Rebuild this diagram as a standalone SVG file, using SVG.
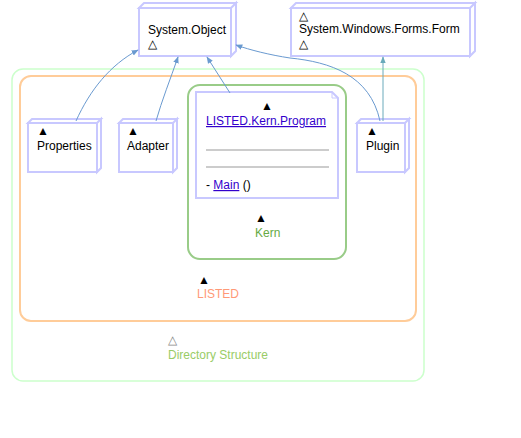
<svg xmlns="http://www.w3.org/2000/svg" width="521" height="438" viewBox="0 0 521 438">
<style>
.box{fill:#fff;stroke:#c8c8ff;stroke-width:2}
.t{font-family:"Liberation Sans",Arial,sans-serif;font-size:12px;fill:#000}
.lnk{fill:#3300cc;text-decoration:underline}
.c{fill:none;stroke:#6a9ad0;stroke-width:1}
</style>
<defs>
<marker id="ah" viewBox="0 0 10 10" refX="9" refY="5" markerWidth="7" markerHeight="7" orient="auto" markerUnits="userSpaceOnUse">
<path d="M0,1 L10,5 L0,9 z" fill="#6a9ad0"/>
</marker>
<marker id="ah2" viewBox="0 0 10 10" refX="9" refY="5" markerWidth="7" markerHeight="7" orient="auto" markerUnits="userSpaceOnUse">
<path d="M0,1 L10,5 L0,9 z" fill="#6aaabb"/>
</marker>
</defs>
<rect width="521" height="438" fill="#fff"/>
<g id="directory-structure">
<rect x="12" y="69" width="412" height="312" rx="11" fill="none" stroke="#ccffcc" stroke-width="1.5"/>
<text class="t" x="168" y="344" fill="#888" style="fill:#888">△</text>
<text class="t" x="168" y="359" style="fill:#99cc66">Directory Structure</text>
</g>
<g id="listed">
<rect x="20" y="76" width="396" height="245" rx="11" fill="none" stroke="#ffcc99" stroke-width="2"/>
<text class="t" x="198" y="284">▲</text>
<text class="t" x="197" y="298" style="fill:#ff9977">LISTED</text>
</g>
<g id="kern">
<rect x="188" y="85" width="158" height="174" rx="12" fill="none" stroke="#99cc88" stroke-width="2"/>
<text class="t" x="255" y="222">▲</text>
<text class="t" x="255" y="237" style="fill:#66aa44">Kern</text>
</g>
<g id="program">
<path d="M196,92 H332 L338,98 V198 H196 Z" class="box"/>
<path d="M332,92 V98 H338" fill="none" stroke="#c8c8ff" stroke-width="1"/>
<text class="t" x="261" y="110">▲</text>
<text class="t lnk" x="206" y="125">LISTED.Kern.Program</text>
<line x1="206" y1="150" x2="329" y2="150" stroke="#999" stroke-width="1"/>
<line x1="206" y1="167" x2="329" y2="167" stroke="#999" stroke-width="1"/>
<text class="t" x="206" y="189">- <tspan class="lnk">Main</tspan> ()</text>
</g>
<g id="system-object">
<path d="M139,8 L144,3 H236 L231,8 Z M231,8 L236,3 V51 L231,56 Z" class="box" stroke-width="1.5"/>
<rect x="139" y="8" width="92" height="48" class="box"/>
<text class="t" x="148" y="34">System.Object</text>
<text class="t" x="148" y="48">△</text>
</g>
<g id="form">
<path d="M291,8 L296,3 H475 L470,8 Z M470,8 L475,3 V51 L470,56 Z" class="box" stroke-width="1.5"/>
<rect x="291" y="8" width="179" height="48" class="box"/>
<text class="t" x="299" y="20">△</text>
<text class="t" x="299" y="33">System.Windows.Forms.Form</text>
<text class="t" x="299" y="48">△</text>
</g>
<g id="properties">
<path d="M28,123 L32,119 H101 L97,123 Z M97,123 L101,119 V168 L97,172 Z" class="box" stroke-width="1.5"/>
<rect x="28" y="123" width="69" height="49" class="box"/>
<text class="t" x="37" y="135">▲</text>
<text class="t" x="37" y="150">Properties</text>
</g>
<g id="adapter">
<path d="M119,123 L123,119 H177 L173,123 Z M173,123 L177,119 V168 L173,172 Z" class="box" stroke-width="1.5"/>
<rect x="119" y="123" width="54" height="49" class="box"/>
<text class="t" x="127" y="135">▲</text>
<text class="t" x="127" y="150">Adapter</text>
</g>
<g id="plugin">
<path d="M357,123 L361,119 H409 L405,123 Z M405,123 L409,119 V168 L405,172 Z" class="box" stroke-width="1.5"/>
<rect x="357" y="123" width="48" height="49" class="box"/>
<text class="t" x="366" y="135">▲</text>
<text class="t" x="366" y="150">Plugin</text>
</g>
<g id="connectors">
<path class="c" d="M76,121 C90,90 110,65 138,50" marker-end="url(#ah)"/>
<path class="c" d="M156,121 C162,100 170,80 178,57" marker-end="url(#ah)"/>
<path class="c" d="M230,93 L207,57" marker-end="url(#ah)"/>
<path class="c" d="M380,121 C370,75 330,62 290,58 C270,55 250,50 236,45" marker-end="url(#ah)"/>
<path d="M383,121 V57" fill="none" stroke="#6aaabb" stroke-width="1" marker-end="url(#ah2)"/>
</g>
</svg>
